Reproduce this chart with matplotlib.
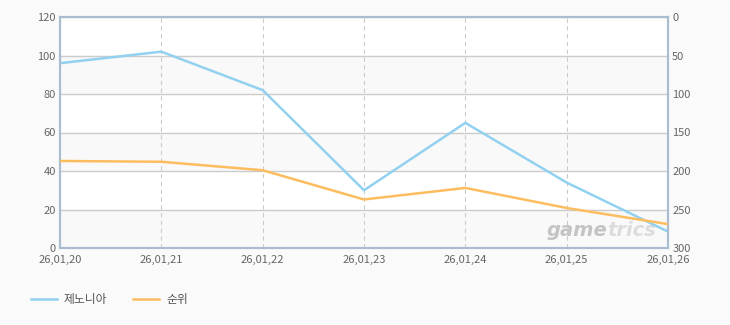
import matplotlib
matplotlib.use('Agg')
import matplotlib.pyplot as plt

plt.rcParams['font.family'] = ['Noto Sans CJK KR', 'DejaVu Sans']

dates = ['26,01,20', '26,01,21', '26,01,22', '26,01,23', '26,01,24', '26,01,25', '26,01,26']
share = [96, 102, 82, 30, 65, 34, 8.5]
rank = [187, 188, 199, 237, 222, 248, 269]

blue = '#92d1ef'
orange = '#fdbd5f'
border = '#a9bcd0'
tick_color = '#666666'

fig = plt.figure(figsize=(7.3, 3.25), dpi=100)
fig.patch.set_facecolor('#fafafa')
ax = fig.add_axes([60 / 730, 77 / 325, 608 / 730, 231 / 325])
ax.set_facecolor('white')

x = list(range(len(dates)))

# alternating bands
for lo in range(0, 120, 40):
    ax.axhspan(lo, lo + 20, color='#f9f9f9', zorder=0)

ax.set_ylim(0, 120)
ax.set_xlim(0, len(dates) - 1)
ax.set_yticks(range(0, 121, 20))
ax.set_xticks(x)
ax.set_xticklabels(dates)
ax.grid(axis='y', color='#cccccc', linewidth=1, zorder=1)
ax.grid(axis='x', color='#cccccc', linewidth=0.8, linestyle=(0, (4, 3)), zorder=1)
ax.tick_params(axis='y', length=0, colors=tick_color, labelsize=8, pad=3)
ax.tick_params(axis='x', length=0, colors=tick_color, labelsize=8, pad=5)

for side in ax.spines:
    ax.spines[side].set_color(border)
    ax.spines[side].set_linewidth(1.5)

ax2 = ax.twinx()
ax2.set_ylim(300, 0)
ax2.set_yticks(range(0, 301, 50))
ax2.tick_params(length=0, colors=tick_color, labelsize=8, pad=3)
for side in ax2.spines:
    ax2.spines[side].set_color(border)
    ax2.spines[side].set_linewidth(1.5)

l1, = ax.plot(x, share, color=blue, linewidth=1.8, zorder=3, label='제노니아')
l2, = ax2.plot(x, rank, color=orange, linewidth=1.8, zorder=3, label='순위')

# watermark
wm = ax.text(0.80, 0.035, 'game', transform=ax.transAxes, ha='left', va='bottom',
             fontsize=14, fontweight='bold', style='italic', color='#c4c4c4',
             family='DejaVu Sans', zorder=2)
ax.annotate('trics', xy=(1, 0), xycoords=wm, ha='left', va='bottom',
            fontsize=14, fontweight='bold', style='italic', color='#dcdcdc',
            family='DejaVu Sans', zorder=2)

fig.legend(handles=[l1, l2], loc='lower left', bbox_to_anchor=(20 / 730, 8 / 325),
           ncol=2, frameon=False, fontsize=8.5, handlelength=2.2,
           handletextpad=0.6, columnspacing=2.2, labelcolor='#555555')

fig.savefig('out.png', dpi=100, facecolor=fig.get_facecolor())
